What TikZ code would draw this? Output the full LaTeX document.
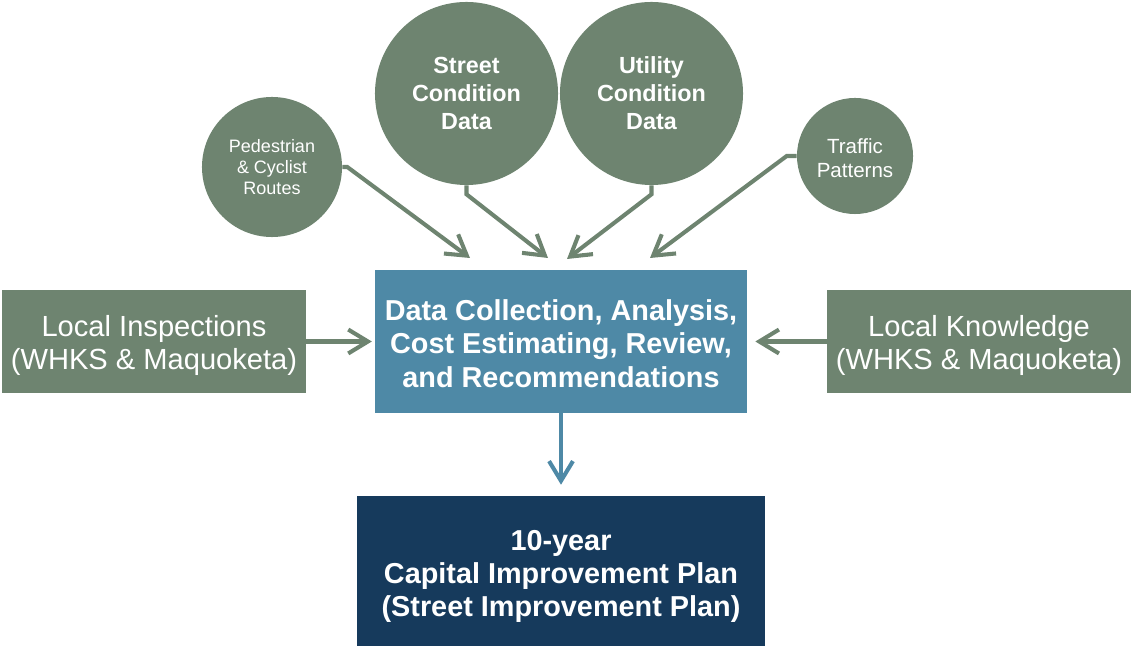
\documentclass[tikz,border=0pt]{standalone}
\usepackage{fontspec}
\setmainfont{Liberation Sans}
\usetikzlibrary{arrows.meta}
\definecolor{sage}{RGB}{110,132,112}
\definecolor{steel}{RGB}{78,137,166}
\definecolor{navy}{RGB}{22,58,92}
\begin{document}
\begin{tikzpicture}[x=0.025cm,y=-0.025cm,
  every node/.style={text=white,align=center,inner sep=0pt},
  bubble/.style={circle,fill=sage,minimum size=#1},
  panel/.style={rectangle,fill=#1},
  feed/.style={draw=sage,line width=2.9pt,-{Straight Barb[length=14pt,width=17pt]}},
  ]
\useasboundingbox (0,0) rectangle (1133,648);
% data sources around the hub
\node[bubble=3.5cm,font=\fontsize{12.8}{15}\selectfont] (ped) at (272,167) {Pedestrian\\\& Cyclist\\Routes};
\node[bubble=4.575cm,font=\fontsize{16.6}{20}\selectfont\bfseries] (street) at (466.5,93.5) {Street\\Condition\\Data};
\node[bubble=4.575cm,font=\fontsize{16.6}{20}\selectfont\bfseries] (utility) at (651.5,93.5) {Utility\\Condition\\Data};
\node[bubble=2.9cm,font=\fontsize{14.6}{17}\selectfont] (traffic) at (855,156) {\rule{0pt}{13.5pt}Traffic\\Patterns};
% boxes (the rules push the text a bit lower)
\node[panel=steel,minimum width=9.3cm,minimum height=3.575cm,font=\fontsize{20.5}{23.8}\selectfont\bfseries] (hub) at (561,341.5) {\rule{0pt}{17.8pt}Data Collection, Analysis,\\Cost Estimating, Review,\\and Recommendations};
\node[panel=sage,minimum width=7.6cm,minimum height=2.575cm,font=\fontsize{20.7}{23.5}\selectfont] (inspect) at (154,341.5) {\rule{0pt}{20.8pt}Local Inspections\\(WHKS \& Maquoketa)};
\node[panel=sage,minimum width=7.6cm,minimum height=2.575cm,font=\fontsize{20.7}{23.5}\selectfont] (know) at (979,341.5) {\rule{0pt}{20.8pt}Local Knowledge\\(WHKS \& Maquoketa)};
\node[panel=navy,minimum width=10.2cm,minimum height=3.75cm,font=\fontsize{20.5}{23.5}\selectfont\bfseries] (plan) at (561,571) {\rule{0pt}{21.8pt}10-year\\Capital Improvement Plan\\(Street Improvement Plan)};
% arrow ends above the hub
\coordinate (inA) at (470,258);
\coordinate (inB) at (548,258);
\coordinate (inC) at (567,259);
\coordinate (inD) at (650,258);
\draw[feed] (ped.east) -- ++(5,0) -- (inA);
\draw[feed] (street.south) -- ++(0,9) -- (inB);
\draw[feed] (utility.south) -- ++(0,9) -- (inC);
\draw[feed] (traffic.west) -- ++(-10,0) -- (inD);
\draw[feed,shorten >=2pt] (inspect.east) -- (hub.west);
\draw[feed,shorten >=5.7pt] (know.west) -- (hub.east);
\draw[feed,draw=steel,shorten >=7.8pt] (hub.south) -- (plan.north);
\end{tikzpicture}
\end{document}
